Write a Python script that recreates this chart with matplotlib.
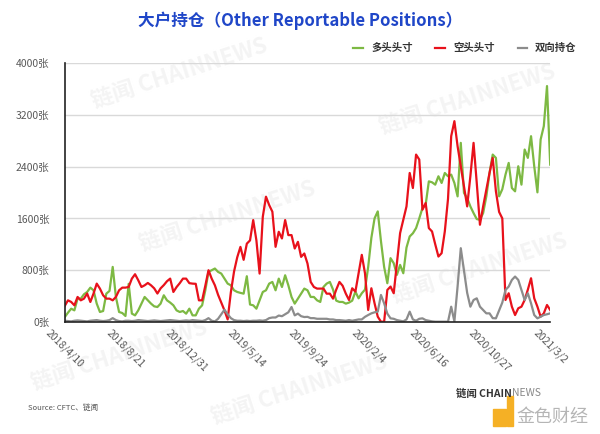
import matplotlib
matplotlib.use('Agg')
import matplotlib.pyplot as plt
from matplotlib.patches import Rectangle

plt.rcParams['font.family'] = ['Noto Sans CJK SC', 'DejaVu Sans']

# weekly CFTC reports, 2018/4/10 .. 2021/3/2
tick_labels = ['2018/4/10', '2018/8/21', '2018/12/31', '2019/5/14', '2019/9/24',
               '2020/2/4', '2020/6/16', '2020/10/27', '2021/3/2']
tick_step = 19

# 多头头寸
long_pos = [77, 145, 206, 180, 361, 361, 428, 464, 531, 490,
            284, 155, 170, 438, 480, 851, 387, 155, 139, 93,
            590, 130, 103, 180, 284, 387, 335, 284, 242,
            232, 284, 413, 335, 300, 258, 180, 155, 170, 129,
            206, 103, 103, 206, 258, 490, 774, 800, 826, 774,
            748, 670, 593, 567, 490, 464, 450, 438, 707,
            270, 258, 206, 335, 464, 490, 593, 619, 490, 670,
            541, 722, 567, 387, 284, 360, 438, 516, 490, 387,
            387, 335, 310, 541, 593, 619, 500, 330, 310, 310,
            284, 300, 330, 470, 366, 444, 500, 850, 1300,
            1600, 1708, 1250, 850, 599, 986, 908, 728, 882, 753,
            1150, 1321, 1370, 1450, 1600, 1760, 1811, 2172, 2157, 2121,
            2250, 2147, 2301, 2250, 2276, 2147, 1940, 2766, 1992, 1914,
            1785, 1682, 1589, 1579, 1682, 1940, 2301, 2585, 2534,
            1940, 2050, 2276, 2456, 2069, 2018, 2405, 2121, 2663, 2534,
            2869, 2405, 2002, 2817, 3024, 3643, 2430]

# 空头头寸
short_pos = [250, 335, 310, 258, 387, 335, 361, 440, 310, 440,
             593, 516, 413, 361, 361, 335, 387, 490, 531, 531,
             541, 670, 738, 645, 541, 567, 603, 567, 520,
             440, 520, 570, 630, 670, 464, 540, 600, 670, 670,
             600, 593, 590, 335, 335, 560, 800, 670, 567, 420,
             300, 180, 40, 460, 780, 1000, 1160, 960, 1210,
             1260, 1574, 1260, 748, 1625, 1935, 1806, 1703, 1161, 1393,
             1290, 1574, 1342, 1342, 1135, 1238, 1006, 1058, 903, 619,
             541, 516, 516, 516, 438, 438, 361, 500, 619, 560,
             438, 340, 521, 470, 753, 1037, 753, 186, 521,
             289, 83, 5, 5, 495, 547, 444, 908, 1373, 1579,
             1785, 2301, 2069, 2585, 2508, 1734, 1837, 1450, 1398, 1200,
             1011, 1063, 1400, 1900, 2870, 3101, 2714, 2405, 2095, 1785,
             2250, 2766, 2147, 1502, 1785, 2043, 2301, 2534, 2018,
             1700, 1600, 340, 444, 237, 108, 212, 237, 340, 500,
             676, 366, 237, 83, 134, 263, 186]

# 双向持仓
spread_pos = [20, 15, 10, 20, 25, 20, 15, 10, 20, 25,
              30, 20, 15, 20, 30, 60, 30, 15, 10, 20,
              20, 15, 20, 30, 25, 20, 15, 20, 25,
              20, 15, 20, 25, 30, 25, 20, 15, 20, 25,
              20, 30, 25, 20, 15, 30, 60, 20, 10, 50,
              120, 190, 120, 60, 30, 20, 20, 15, 20,
              15, 20, 20, 25, 20, 30, 60, 70, 70, 100,
              90, 120, 150, 232, 103, 130, 90, 77, 80, 60,
              60, 50, 50, 50, 50, 40, 40, 30, 30, 25,
              20, 30, 20, 30, 40, 40, 80, 108, 134,
              150, 160, 418, 289, 130, 57, 50, 30, 20, 10,
              40, 160, 40, 20, 50, 57, 30, 20, 10, 5,
              5, 5, 5, 5, 237, 10, 550, 1140, 800, 450,
              237, 340, 366, 237, 186, 134, 134, 60, 57,
              180, 300, 495, 547, 650, 702, 650, 495, 340, 444,
              289, 108, 57, 83, 108, 120, 134]

fig = plt.figure(figsize=(6, 4.34), dpi=100)

# faint watermarks
for wx, wy in [(0.3, 0.83), (0.38, 0.5), (0.78, 0.77), (0.8, 0.38),
               (0.2, 0.18), (0.5, 0.1)]:
    fig.text(wx, wy, '链闻 CHAINNEWS', fontsize=16, fontweight='bold',
             color='#f4f4f4', rotation=18, ha='center', va='center', zorder=0)

ax = fig.add_axes([0.108, 0.258, 0.809, 0.597], zorder=2)
ax.patch.set_alpha(0)
x = range(len(long_pos))
ax.plot(x, long_pos, color='#7db943', lw=1.6, label='多头头寸')
ax.plot(x, short_pos, color='#e8111b', lw=1.6, label='空头头寸')
ax.plot(x, spread_pos, color='#8c8c8c', lw=1.6, label='双向持仓')

ax.set_xlim(0, len(long_pos) - 1)
ax.set_ylim(0, 4000)
ax.set_yticks(range(0, 4001, 800))
ax.set_yticklabels([f'{v}张' for v in range(0, 4001, 800)])
ax.set_xticks([i * tick_step for i in range(len(tick_labels))])
ax.set_xticklabels(tick_labels, rotation=-45, ha='center', va='top')
ax.tick_params(axis='both', length=0, labelsize=7.5, labelcolor='#595959')
ax.tick_params(axis='x', pad=4)
ax.tick_params(axis='y', pad=11)
ax.yaxis.grid(True, color='#d9d9d9', lw=1)
ax.set_axisbelow(True)
for s in ['top', 'right']:
    ax.spines[s].set_visible(False)
ax.spines['left'].set_color('#222222')
ax.spines['bottom'].set_color('#222222')
ax.spines['left'].set_linewidth(1.2)
ax.spines['bottom'].set_linewidth(1.2)

ax.legend(loc='center', bbox_to_anchor=(0.775, 0.889), bbox_transform=fig.transFigure,
          ncol=3, frameon=False, handlelength=0.9, columnspacing=2.2, handletextpad=0.8,
          prop={'size': 7.5, 'weight': 'bold'}, labelcolor='#333333')

fig.text(0.5, 0.953, '大户持仓（Other Reportable Positions）', ha='center', va='center',
         fontsize=12, fontweight='bold', color='#1f46c8')

fig.text(0.047, 0.06, 'Source: CFTC、链闻', fontsize=5.5, color='#555555', va='center')

# logos bottom right
t1 = fig.text(0.76, 0.094, '链闻 CHAIN', fontsize=7.5, fontweight='bold', color='#333333', va='center')
ax.annotate('NEWS', xy=(1, 0.5), xycoords=t1, va='center', ha='left',
            fontsize=7.5, color='#888888', annotation_clip=False)
fig.patches.append(Rectangle((0.822, 0.018), 0.022, 0.04, transform=fig.transFigure,
                             color='#f5b025', zorder=3))
fig.patches.append(Rectangle((0.845, 0.018), 0.01, 0.07, transform=fig.transFigure,
                             color='#f5b025', zorder=3))
fig.text(0.86, 0.04, '金色财经', fontsize=13, color='#b5b5b5', va='center')

fig.savefig('out.png', dpi=100)
